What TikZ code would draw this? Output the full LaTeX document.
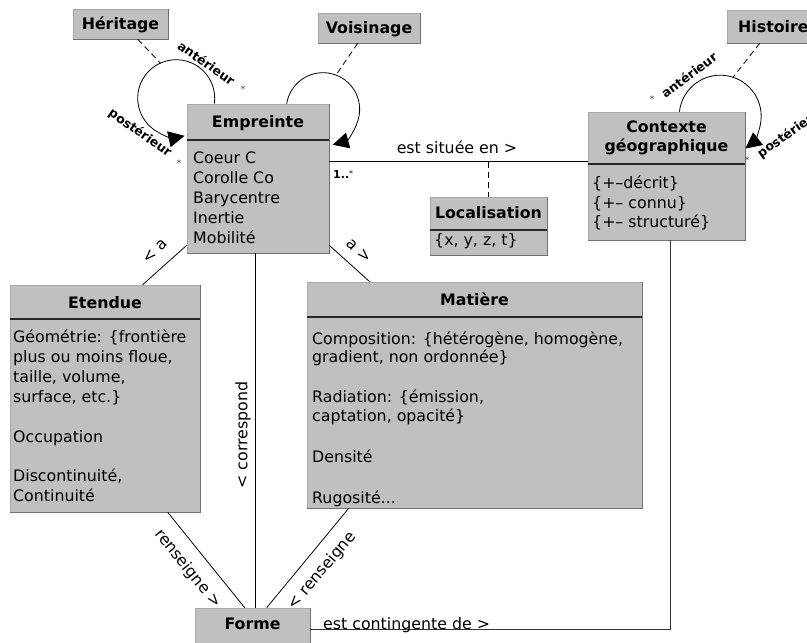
\documentclass[tikz,border=0pt]{standalone}
\usepackage{fontspec}
\setmainfont{DejaVu Sans}
\usetikzlibrary{arrows.meta,calc,fit}
\definecolor{boxgray}{HTML}{C0C0C0}
\definecolor{boxline}{HTML}{A8A8A8}
\definecolor{boxshadow}{HTML}{707070}
\newcommand\classbox[3]{%
  \node[ubox, fit={#2 #3}] (#1) {};
  \draw[shadeedge] (#1.north east) -- (#1.south east) -- (#1.south west);}
\begin{document}
\begin{tikzpicture}[x=1pt,y=-1pt,
  ubox/.style={fill=boxgray, draw=boxline, line width=0.6pt, inner sep=0pt},
  shadeedge/.style={draw=boxshadow, line width=0.9pt},
  sepline/.style={draw=black!85, line width=1.3pt},
  title/.style={font=\bfseries\fontsize{15.8}{18}\selectfont, inner sep=0pt, anchor=base},
  attr/.style={font=\fontsize{15.8}{18}\selectfont, inner sep=0pt, anchor=base west},
  lbl/.style={font=\fontsize{15.8}{18}\selectfont, inner sep=0pt},
  role/.style={font=\bfseries\fontsize{12.5}{14}\selectfont, inner sep=0pt},
  mult/.style={font=\fontsize{9}{10}\selectfont, text=black!75, inner sep=0pt},
  assoc/.style={draw=black, line width=0.8pt},
  route/.style={draw=black!80, line width=1.4pt},
  dashline/.style={draw=black, line width=0.8pt, dash pattern=on 6pt off 4pt},
  loophead/.style={-{Triangle[length=16pt,width=16pt]}}]
\useasboundingbox (0,0) rectangle (807,643);

% ---- class boxes ----
\classbox{her}{(73,9)}{(168,39)}
\classbox{vois}{(318,13)}{(420,43)}
\classbox{hist}{(727,10)}{(815,43)}
\classbox{emp}{(187,104)}{(329,253)}
\classbox{loc}{(430,197)}{(547,255)}
\classbox{ctx}{(588,112)}{(745,240)}
\classbox{ete}{(10,285)}{(200,512)}
\classbox{mat}{(307,282)}{(642,508)}
\classbox{forme}{(195,608)}{(310,652)}

% compartment separators
\draw[sepline] (187,140) -- (329,140);
\draw[sepline] (430,230) -- (547,230);
\draw[sepline] (588,164) -- (745,164);
\draw[sepline] (10,319) -- (200,319);
\draw[sepline] (307,317) -- (642,317);

% ---- titles ----
\node[title] (herT) at (120.5,29.5) {Héritage};
\node[title] (voisT) at (369,33.5) {Voisinage};
\node[title, anchor=base west] (histT) at (738,32) {Histoire};
\node[title] (empT) at (258,127.5) {Empreinte};
\node[title] (locT) at (488.5,218) {Localisation};
\node[title] (ctxT1) at (666.5,132.5) {Contexte};
\node[title] (ctxT2) at (666.5,151.5) {géographique};
\node[title] (eteT) at (105,308.5) {Etendue};
\node[title] (matT) at (474.5,305.5) {Matière};
\node[title] (formeT) at (252.5,629) {Forme};

% ---- attributes ----
\node[attr] (emp1) at (193,163.5) {Coeur C};
\node[attr] (emp2) at (193,183.5) {Corolle Co};
\node[attr] (emp3) at (193,203.5) {Barycentre};
\node[attr] (emp4) at (193,223.5) {Inertie};
\node[attr] (emp5) at (193,243.5) {Mobilité};

\node[attr] (loc1) at (434,245.5) {\{x, y, z, t\}};

\node[attr] (ctx1) at (592,188) {\{+–décrit\}};
\node[attr] (ctx2) at (592,208) {\{+– connu\}};
\node[attr] (ctx3) at (592,227) {\{+– structuré\}};

\node[attr] (ete1) at (13,342) {Géométrie: \{frontière};
\node[attr] (ete2) at (13,362) {plus ou moins floue,};
\node[attr] (ete3) at (13,382) {taille, volume,};
\node[attr] (ete4) at (13,402) {surface, etc.\}};
\node[attr] (ete5) at (13,442) {Occupation};
\node[attr] (ete6) at (13,481) {Discontinuité,};
\node[attr] (ete7) at (13,501) {Continuité};

\node[attr] (mat1) at (312,344) {Composition: \{hétérogène, homogène,};
\node[attr] (mat2) at (312,362) {gradient, non ordonnée\}};
\node[attr] (mat3) at (312,402) {Radiation: \{émission,};
\node[attr] (mat4) at (312,421) {captation, opacité\}};
\node[attr] (mat5) at (312,462) {Densité};
\node[attr] (mat6) at (312,503) {Rugosité...};

% ---- associations ----
\draw[assoc] ($(emp.north east)+(0,58)$) coordinate (sitA)
  -- ($(ctx.north west)+(0,50)$) coordinate (sitB);
\coordinate (sitL) at ($(loc.north)+(0,-35)$);
\draw[dashline] (sitL) -- (loc.north);
\node[lbl] (sitT) at (457,147) {est située en >};
\node[font=\bfseries\fontsize{11}{12}\selectfont, inner sep=0pt, anchor=base west] (sitM)
  at (333,178) {1..\raisebox{1.5pt}{\fontsize{8}{8}\selectfont\mdseries *}};

\draw[assoc] ($(emp.south west)+(0,-8)$) -- ($(ete.north west)+(133,0)$);
\node[lbl, rotate=45] (aL) at (155,251) {< a};
\draw[assoc] ($(emp.south east)+(0,-8)$) -- ($(mat.north west)+(63,0)$);
\node[lbl, rotate=-45] (aR) at (359,251) {a >};

\draw[assoc] ($(emp.south west)+(69,0)$) -- ($(forme.north west)+(61,0)$);
\node[lbl, rotate=90] (corrT) at (243,435) {< correspond};

\draw[assoc] ($(ete.south west)+(158,0)$) -- ($(forme.north west)+(50,0)$);
\node[lbl, rotate=-51] (rensL) at (188,569) {renseigne >};
\draw[assoc] ($(mat.south west)+(42,0)$) -- ($(forme.north west)+(72,0)$);
\node[lbl, rotate=50] (rensR) at (322,571) {< renseigne};

\draw[route] ($(ctx.south west)+(83,0)$) |- ($(forme.north east)+(0,22)$);
\node[lbl, anchor=base west] (contT) at (323,629.5) {est contingente de >};

% ---- reflexive associations ----
% Empreinte / Héritage
\coordinate (hs) at ($(emp.north west)+(27.6,0)$);
\draw[assoc, loophead] (hs) arc[start angle=-8.2, end angle=282.5, radius=38.5pt];
\coordinate (hc) at (160.7,63.4);
\draw[dashline] ($(her.south west)+(65,0)$) -- (hc);
\node[role, rotate=-35] (antE) at (206.5,63) {antérieur};
\node[mult] (antEm) at (243,89) {*};
\node[role, rotate=-35] (posE) at (140,133) {postérieur};
\node[mult] (posEm) at (179,163) {*};

% Empreinte / Voisinage
\coordinate (vs) at ($(emp.north west)+(100,0)$);
\draw[assoc, loophead] (vs) arc[start angle=171.1, end angle=-74.6, radius=36.7pt];
\coordinate (vc) at (335.9,75.2);
\draw[dashline] ($(vois.south west)+(40,0)$) -- (vc);

% Contexte géographique / Histoire
\coordinate (cs) at ($(ctx.north west)+(91.75,0)$);
\draw[assoc, loophead] (cs) arc[start angle=173.7, end angle=-52, radius=41pt];
\coordinate (cc) at (732.9,77.4);
\draw[dashline] ($(hist.south west)+(33,0)$) -- (cc);
\node[role, rotate=37] (antC) at (689,75) {antérieur};
\node[mult] (antCm) at (652,99) {*};
\node[role, rotate=35] (posC) at (789,134) {postérieur};
\node[mult] (posCm) at (747,160) {*};
\end{tikzpicture}
\end{document}
